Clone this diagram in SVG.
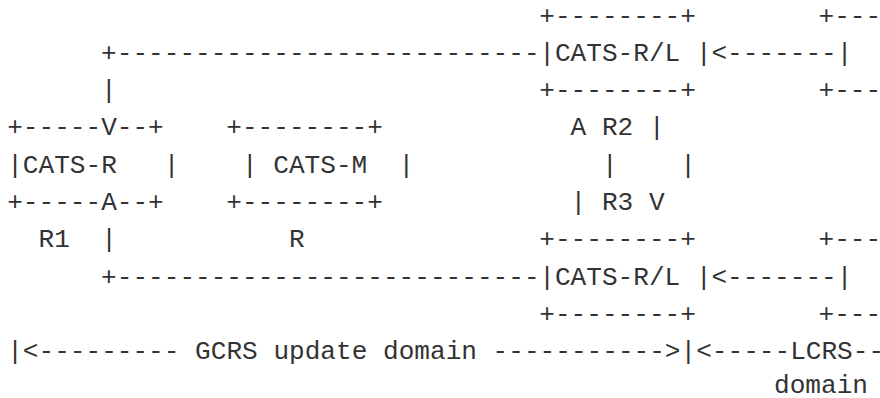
<svg xmlns="http://www.w3.org/2000/svg" width="880" height="398" viewBox="0 0 880 398">
  <style>
    text { font-family: "Liberation Mono", "DejaVu Sans Mono", monospace; font-size: 26.1px; fill: #333333; white-space: pre; }
  </style>
  <rect width="880" height="398" fill="#ffffff"/>
  <!-- column grid: x = 7.2 + 15.65 * col ; row baselines: y = 23.5 + 37.3 * row -->

  <g id="node-cats-r">
    <text x="7.2" y="135.4" xml:space="preserve">+-----V--+</text>
    <text x="7.2" y="172.7" xml:space="preserve">|CATS-R   |</text>
    <text x="7.2" y="210.0" xml:space="preserve">+-----A--+</text>
  </g>

  <g id="node-cats-m">
    <text x="226.3" y="135.4" xml:space="preserve">+--------+</text>
    <text x="241.95" y="172.7" xml:space="preserve">| CATS-M  |</text>
    <text x="226.3" y="210.0" xml:space="preserve">+--------+</text>
    <text x="288.9" y="247.3" xml:space="preserve">R</text>
  </g>

  <g id="node-cats-rl-top">
    <text x="539.3" y="23.5" xml:space="preserve">+--------+</text>
    <text x="539.3" y="60.8" xml:space="preserve">|CATS-R/L |</text>
    <text x="539.3" y="98.1" xml:space="preserve">+--------+</text>
  </g>

  <g id="node-cats-rl-bottom">
    <text x="539.3" y="247.3" xml:space="preserve">+--------+</text>
    <text x="539.3" y="284.6" xml:space="preserve">|CATS-R/L |</text>
    <text x="539.3" y="321.9" xml:space="preserve">+--------+</text>
  </g>

  <!-- partial boxes at the right edge (LCRS side) -->
  <g id="node-lcrs-top">
    <text x="818.5" y="23.5" xml:space="preserve">+---</text>
    <text x="818.5" y="98.1" xml:space="preserve">+---</text>
  </g>

  <g id="node-lcrs-bottom">
    <text x="818.5" y="247.3" xml:space="preserve">+---</text>
    <text x="818.5" y="321.9" xml:space="preserve">+---</text>
  </g>

  <g id="connectors">
    <text x="101.1" y="60.8" xml:space="preserve">+---------------------------</text>
    <text x="711.45" y="60.8" xml:space="preserve">&lt;-------|</text>
    <text x="101.1" y="98.1" xml:space="preserve">|</text>
    <text x="570.6" y="135.4" xml:space="preserve">A R2 |</text>
    <text x="601.9" y="172.7" xml:space="preserve">|</text>
    <text x="680.15" y="172.7" xml:space="preserve">|</text>
    <text x="570.6" y="210.0" xml:space="preserve">| R3 V</text>
    <text x="38.5" y="247.3" xml:space="preserve">R1  |</text>
    <text x="101.1" y="284.6" xml:space="preserve">+---------------------------</text>
    <text x="711.45" y="284.6" xml:space="preserve">&lt;-------|</text>
  </g>

  <g id="domains">
    <text x="7.2" y="359.2" xml:space="preserve">|&lt;--------- GCRS update domain -----------&gt;|&lt;-----LCRS--</text>
    <text x="774.05" y="392.5" xml:space="preserve">domain</text>
  </g>
</svg>
